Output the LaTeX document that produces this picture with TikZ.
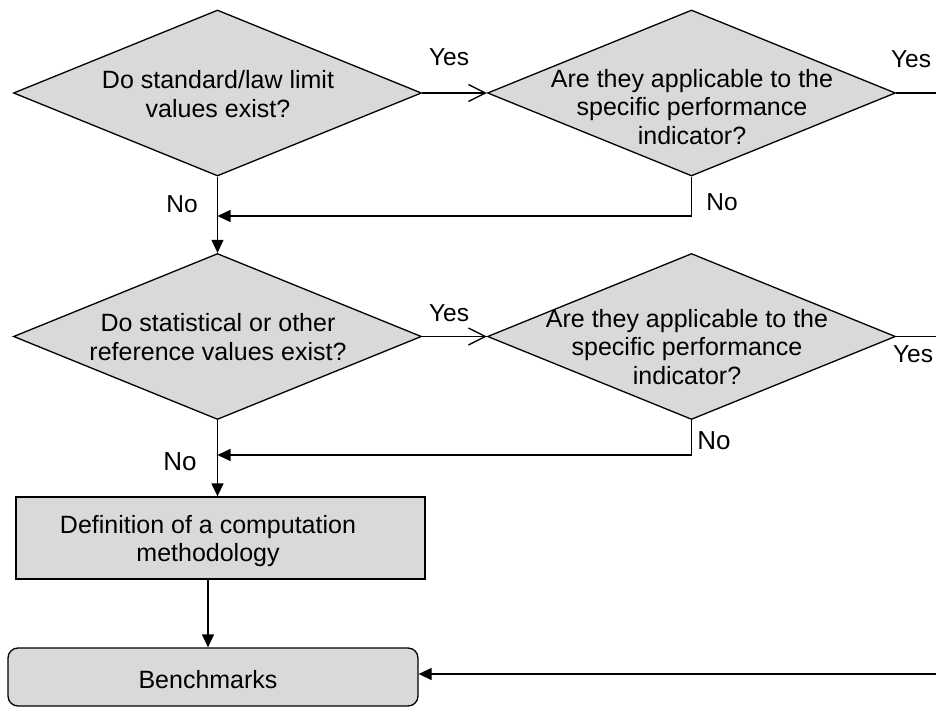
\documentclass[tikz,border=0pt]{standalone}
\usepackage{fontspec}
\setmainfont{Liberation Sans}
\usetikzlibrary{shapes.geometric,arrows.meta}
\definecolor{boxfill}{HTML}{D9D9D9}
\begin{document}
\begin{tikzpicture}[x=1pt,y=-1pt,
  line width=1.3pt,
  dia/.style={shape=diamond,draw,fill=boxfill,minimum width=408pt,minimum height=166pt,inner sep=0pt},
  txt/.style={align=center,font=\fontsize{25}{28.5}\selectfont,inner sep=0pt},
  lbl/.style={font=\fontsize{24.5}{28}\selectfont,inner sep=0pt},
  lblb/.style={font=\fontsize{26}{28}\selectfont,inner sep=0pt},
  procbox/.style={draw,fill=boxfill,minimum width=409pt,minimum height=82pt,inner sep=0pt},
  termbox/.style={draw,fill=boxfill,rounded corners=10pt,minimum width=410pt,minimum height=58pt,inner sep=0pt},
  arr/.style={-{Triangle[length=13pt,width=12pt]}},
  yesarr/.style={-{Straight Barb[length=17pt,width=17pt]}}]
\useasboundingbox (0,0) rectangle (936,708);

% diamonds
\node[dia] (d1) at (217.5,93) {};
\node[txt] (t1) at (218,94) {Do standard/law limit\\values exist?};
\node[dia] (d2) at (691.5,93) {};
\node[txt] (t2) at (692,107) {Are they applicable to the\\specific performance\\indicator?};
\node[dia] (d3) at (217.5,336.5) {};
\node[txt] (t3) at (218,337) {Do statistical or other\\reference values exist?};
\node[dia] (d4) at (691.5,336.5) {};
\node[txt] (t4) at (687,347) {Are they applicable to the\\specific performance\\indicator?};

% boxes
\node[procbox] (pb) at (220.5,538) {};
\node[txt] (tpb) at (208,541) {Definition of a computation\\methodology};
\node[termbox] (bm) at (213,677) {};
\node[txt] (tbm) at (208,680) {Benchmarks};

% free ends and joints
\coordinate (e1) at (936,93);
\coordinate (e2) at (936,336.5);
\coordinate (e3) at (936,674);
\coordinate (j1) at (691.5,216);
\coordinate (k1) at (217.5,216);
\coordinate (j2) at (691.5,455);
\coordinate (k2) at (217.5,455);

% connectors
\draw[yesarr] (d1.east) -- (d2.west);
\draw (d2.east) -- (e1);
\draw[arr] (d1.south) -- (d3.north);
\draw (d2.south) -- (j1);
\draw[arr] (j1) -- (k1);

\draw[yesarr] (d3.east) -- (d4.west);
\draw (d4.east) -- (e2);
\draw[arr] (d3.south) -- (d3.south |- pb.north);
\draw (d4.south) -- (j2);
\draw[arr] (j2) -- (k2);

\draw[arr] ([xshift=-12.5pt]pb.south) -- ([xshift=-12.5pt]pb.south |- bm.north);
\draw[arr] (e3) -- (e3 -| bm.east);

% labels
\node[lbl] (y1) at (449,57) {Yes};
\node[lbl] (y2) at (911,59) {Yes};
\node[lbl] (n1) at (182,204) {No};
\node[lbl] (n2) at (722,202) {No};
\node[lbl] (y3) at (449,313) {Yes};
\node[lbl] (y4) at (913,354) {Yes};
\node[lblb] (n3) at (714,441) {No};
\node[lblb] (n4) at (180,462) {No};
\end{tikzpicture}
\end{document}
